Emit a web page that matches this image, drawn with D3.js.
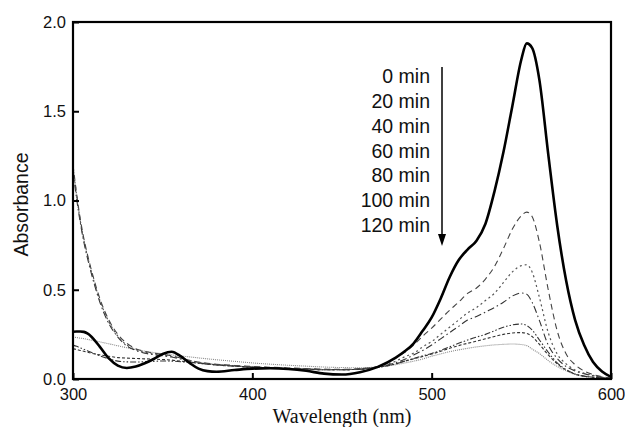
<!DOCTYPE html>
<html>
<head>
<meta charset="utf-8">
<script src="https://cdn.jsdelivr.net/npm/d3@7"></script>
<style>
  html, body { margin: 0; padding: 0; background: #fff; }
  svg { display: block; }
</style>
</head>
<body>
<div id="chart"></div>
<script>
// 波长网格 (nm)
const wavelengths = [300, 302, 304, 306, 308, 310, 315, 320, 325, 330, 335, 340, 345, 350, 355, 360, 365, 370, 375, 380,
    390, 400, 410, 420, 430, 440, 450, 460, 470, 480, 485, 490, 495, 500, 505, 510, 515, 520, 525, 530,
    535, 540, 545, 550, 553, 556, 560, 565, 570, 575, 580, 585, 590, 595, 600];

// 各时间点的吸光度
const abs0 = [0.265, 0.266, 0.266, 0.264, 0.255, 0.24, 0.18, 0.115, 0.075, 0.062, 0.07, 0.088, 0.112, 0.14, 0.153, 0.128, 0.09, 0.058, 0.044, 0.041,
    0.05, 0.058, 0.06, 0.056, 0.046, 0.03, 0.025, 0.038, 0.068, 0.12, 0.155, 0.2, 0.27, 0.345, 0.45, 0.57, 0.665, 0.725, 0.775, 0.87,
    1.05, 1.27, 1.53, 1.79, 1.88, 1.855, 1.68, 1.26, 0.86, 0.55, 0.33, 0.19, 0.095, 0.042, 0.012];
const abs20 = [1.2, 1.04, 0.9, 0.79, 0.7, 0.62, 0.45, 0.33, 0.25, 0.2, 0.17, 0.155, 0.145, 0.138, 0.13, 0.118, 0.105, 0.095, 0.088, 0.083,
    0.076, 0.07, 0.066, 0.062, 0.058, 0.055, 0.054, 0.058, 0.07, 0.12, 0.15, 0.19, 0.24, 0.285, 0.335, 0.385, 0.43, 0.48, 0.51, 0.56,
    0.63, 0.73, 0.84, 0.915, 0.935, 0.91, 0.77, 0.5, 0.27, 0.14, 0.08, 0.045, 0.025, 0.013, 0.005];
const abs40 = [1.19, 1.03, 0.89, 0.78, 0.69, 0.61, 0.44, 0.32, 0.24, 0.19, 0.165, 0.15, 0.14, 0.133, 0.126, 0.115, 0.103, 0.093, 0.086, 0.081,
    0.074, 0.068, 0.064, 0.06, 0.057, 0.054, 0.053, 0.056, 0.068, 0.1, 0.125, 0.145, 0.18, 0.21, 0.25, 0.29, 0.33, 0.37, 0.4, 0.44,
    0.48, 0.54, 0.6, 0.635, 0.64, 0.6, 0.46, 0.26, 0.14, 0.085, 0.05, 0.032, 0.02, 0.01, 0.004];
const abs60 = [1.17, 1.01, 0.88, 0.77, 0.68, 0.6, 0.43, 0.31, 0.235, 0.185, 0.16, 0.145, 0.136, 0.13, 0.123, 0.112, 0.1, 0.09, 0.083, 0.078,
    0.072, 0.066, 0.062, 0.058, 0.055, 0.052, 0.052, 0.055, 0.066, 0.092, 0.11, 0.135, 0.16, 0.19, 0.225, 0.26, 0.295, 0.33, 0.35, 0.375,
    0.4, 0.43, 0.465, 0.482, 0.475, 0.43, 0.33, 0.19, 0.115, 0.07, 0.045, 0.03, 0.018, 0.01, 0.004];
const abs80 = [0.19, 0.183, 0.175, 0.167, 0.158, 0.15, 0.13, 0.113, 0.1, 0.096, 0.095, 0.097, 0.099, 0.101, 0.1, 0.097, 0.093, 0.088, 0.083, 0.079,
    0.072, 0.066, 0.062, 0.058, 0.055, 0.052, 0.052, 0.055, 0.065, 0.085, 0.1, 0.115, 0.13, 0.143, 0.16, 0.18, 0.2, 0.218, 0.235, 0.25,
    0.27, 0.29, 0.303, 0.308, 0.3, 0.275, 0.22, 0.15, 0.09, 0.053, 0.028, 0.016, 0.01, 0.006, 0.003];
const abs100 = [0.17, 0.165, 0.16, 0.155, 0.15, 0.145, 0.135, 0.127, 0.12, 0.117, 0.115, 0.113, 0.111, 0.109, 0.106, 0.1, 0.095, 0.09, 0.085, 0.08,
    0.073, 0.067, 0.062, 0.058, 0.055, 0.052, 0.052, 0.055, 0.065, 0.085, 0.1, 0.113, 0.126, 0.14, 0.155, 0.172, 0.187, 0.2, 0.212, 0.225,
    0.238, 0.25, 0.258, 0.26, 0.255, 0.238, 0.195, 0.135, 0.085, 0.05, 0.027, 0.016, 0.01, 0.006, 0.003];
const abs120 = [0.235, 0.232, 0.229, 0.226, 0.222, 0.218, 0.208, 0.197, 0.186, 0.175, 0.165, 0.156, 0.148, 0.141, 0.135, 0.129, 0.124, 0.118, 0.113, 0.108,
    0.099, 0.09, 0.083, 0.077, 0.072, 0.067, 0.064, 0.063, 0.068, 0.08, 0.09, 0.1, 0.112, 0.128, 0.14, 0.153, 0.163, 0.172, 0.18, 0.186,
    0.191, 0.194, 0.196, 0.193, 0.187, 0.168, 0.143, 0.103, 0.07, 0.046, 0.026, 0.015, 0.01, 0.006, 0.003];

const legendLabels = ["0 min", "20 min", "40 min", "60 min", "80 min", "100 min", "120 min"];
const xTicks = [300, 400, 500, 600];
const yTicks = [0, 0.5, 1.0, 1.5, 2.0];

// 线型
const seriesStyles = [
    { values: abs0, stroke: "#000", width: 2.6, dash: null },
    { values: abs20, stroke: "#444", width: 1.1, dash: "6,4" },
    { values: abs40, stroke: "#555", width: 1.2, dash: "2,3" },
    { values: abs60, stroke: "#333", width: 1.1, dash: "7,3,1.5,3" },
    { values: abs80, stroke: "#333", width: 1.1, dash: "6,2,1.5,2,1.5,2" },
    { values: abs100, stroke: "#333", width: 1.1, dash: "3,2" },
    { values: abs120, stroke: "#888", width: 1.1, dash: "1,1" }
];

const width = 625;
const height = 427;
const marginLeft = 73, plotRight = 611, marginTop = 22, plotBottom = 379;

const svg = d3.select("#chart")
    .append("svg")
    .attr("width", width)
    .attr("height", height)
    .style("font-family", "'Liberation Sans', Arial, sans-serif");

const x = d3.scaleLinear().domain([300, 600]).range([marginLeft, plotRight]);
const y = d3.scaleLinear().domain([0, 2]).range([plotBottom, marginTop]);

// 曲线
const line = d3.line()
    .x((d, i) => x(wavelengths[i]))
    .y(d => y(d))
    .curve(d3.curveMonotoneX);

svg.append("clipPath").attr("id", "clip")
    .append("rect")
    .attr("x", marginLeft).attr("y", marginTop)
    .attr("width", plotRight - marginLeft).attr("height", plotBottom - marginTop);

const curves = svg.append("g").attr("clip-path", "url(#clip)");

// 先画虚线，最后画实线
seriesStyles.slice().reverse().forEach(s => {
    curves.append("path")
        .datum(s.values)
        .attr("fill", "none")
        .attr("stroke", s.stroke)
        .attr("stroke-width", s.width)
        .attr("stroke-dasharray", s.dash)
        .attr("stroke-linejoin", "round")
        .attr("d", line);
});

// 坐标轴
svg.append("g")
    .attr("transform", `translate(${marginLeft},0)`)
    .call(d3.axisLeft(y).tickValues(yTicks).tickFormat(d3.format(".1f")).tickSize(-6).tickPadding(7))
    .call(g => g.select(".domain").remove())
    .call(g => g.selectAll(".tick line").attr("stroke", "#000").attr("stroke-width", 2))
    .call(g => g.selectAll(".tick text")
        .attr("font-size", 16.5)
        .attr("font-family", "'Liberation Sans', Arial, sans-serif")
        .attr("fill", "#111"));

svg.append("g")
    .attr("transform", `translate(0,${plotBottom})`)
    .call(d3.axisBottom(x).tickValues(xTicks).tickFormat(d3.format("d")).tickSize(-6).tickPadding(9))
    .call(g => g.select(".domain").remove())
    .call(g => g.selectAll(".tick line").attr("stroke", "#000").attr("stroke-width", 2))
    .call(g => g.selectAll(".tick text")
        .attr("font-size", 16.5)
        .attr("font-family", "'Liberation Sans', Arial, sans-serif")
        .attr("fill", "#111"));

// 边框
svg.append("rect")
    .attr("x", marginLeft).attr("y", marginTop)
    .attr("width", plotRight - marginLeft).attr("height", plotBottom - marginTop)
    .attr("fill", "none")
    .attr("stroke", "#000")
    .attr("stroke-width", 2.2);

// 轴标题
svg.append("text")
    .attr("transform", `translate(23,${(marginTop + plotBottom) / 2 + 4}) rotate(-90)`)
    .attr("text-anchor", "middle")
    .attr("dominant-baseline", "middle")
    .attr("font-size", 19.5)
    .attr("fill", "#111")
    .text("Absorbance");

svg.append("text")
    .attr("x", (marginLeft + plotRight) / 2)
    .attr("y", 423)
    .attr("text-anchor", "middle")
    .attr("font-family", "'Liberation Serif', 'Times New Roman', serif")
    .attr("font-size", 20)
    .attr("fill", "#111")
    .text("Wavelength (nm)");

// 图例
const legendY = d3.scalePoint().domain(legendLabels).range([76, 225]);
svg.append("g")
    .selectAll("text")
    .data(legendLabels)
    .join("text")
    .attr("x", 430)
    .attr("y", d => legendY(d))
    .attr("text-anchor", "end")
    .attr("dominant-baseline", "central")
    .attr("font-size", 19.5)
    .attr("fill", "#111")
    .text(d => d);

// 箭头
svg.append("line")
    .attr("x1", 442).attr("y1", 67)
    .attr("x2", 442).attr("y2", 236)
    .attr("stroke", "#000")
    .attr("stroke-width", 1.5);
svg.append("path")
    .attr("d", "M438,234 L446,234 L442,246 Z")
    .attr("fill", "#000");
</script>
</body>
</html>
